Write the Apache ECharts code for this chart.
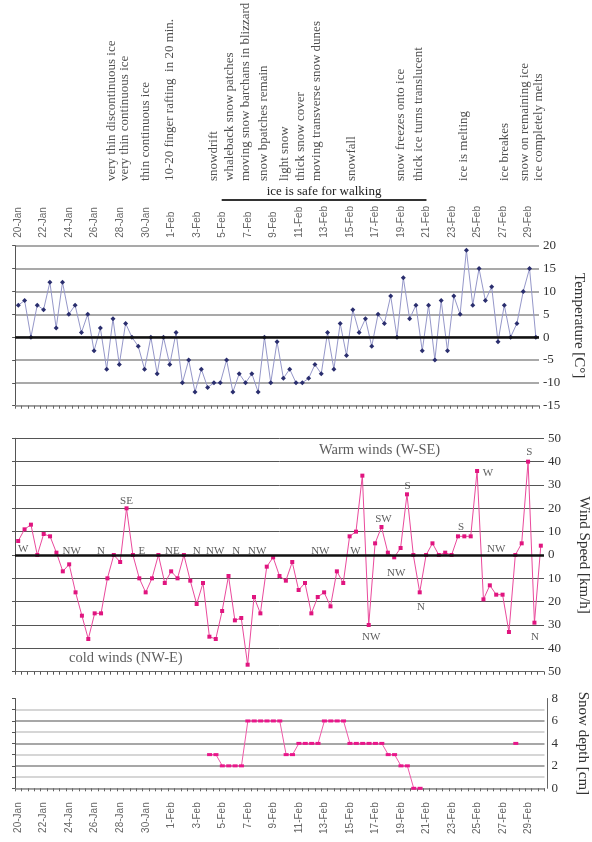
<!DOCTYPE html>
<html>
<head>
<meta charset="utf-8">
<script src="https://cdn.jsdelivr.net/npm/echarts@6/dist/echarts.min.js"></script>
<style>
  html, body { margin: 0; padding: 0; background: #fff; }
  #chart { width: 592px; height: 842px; }
</style>
</head>
<body>
<div id="chart"></div>
<script>
// Observation days; two readings per day (morning / evening)
const days = ['20-Jan','21-Jan','22-Jan','23-Jan','24-Jan','25-Jan','26-Jan','27-Jan','28-Jan','29-Jan',
  '30-Jan','31-Jan','1-Feb','2-Feb','3-Feb','4-Feb','5-Feb','6-Feb','7-Feb','8-Feb','9-Feb','10-Feb',
  '11-Feb','12-Feb','13-Feb','14-Feb','15-Feb','16-Feb','17-Feb','18-Feb','19-Feb','20-Feb','21-Feb',
  '22-Feb','23-Feb','24-Feb','25-Feb','26-Feb','27-Feb','28-Feb','29-Feb','1-Mar'];

// Air temperature [°C]
const temperature = [7, 8, 0, 7, 6, 12, 2, 12, 5, 7, 1, 5, -3, 2, -7, 4, -6, 3, 0, -2,
  -7, 0, -8, 0, -6, 1, -10, -5, -12, -7, -11, -10, -10, -5, -12, -8, -10, -8, -12, 0,
  -10, -1, -9, -7, -10, -10, -9, -6, -8, 1, -7, 3, -4, 6, 1, 4, -2, 5, 3, 9,
  0, 13, 4, 7, -3, 7, -5, 8, -3, 9, 5, 19, 7, 15, 8, 11, -1, 7, 0, 3,
  10, 15, 0];

// Wind speed [km/h]; positive = warm winds (W-SE), negative = cold winds (NW-E)
const windSpeed = [6, 11, 13, 0, 9, 8, 1, -7, -4, -16, -26, -36, -25, -25, -10, 0, -3, 20, 0, -10,
  -16, -10, 0, -12, -7, -10, 0, -11, -21, -12, -35, -36, -24, -9, -28, -27, -47, -18, -25, -5,
  -1, -9, -11, -3, -15, -12, -25, -18, -16, -22, -7, -12, 8, 10, 34, -30, 5, 12, 1, -1,
  3, 26, 0, -16, 0, 5, 0, 1, 0, 8, 8, 8, 36, -19, -13, -17, -17, -33, 0, 5,
  40, -29, 4];

// Snow depth on the ice [cm]
const snowDepth = [null, null, null, null, null, null, null, null, null, null,
  null, null, null, null, null, null, null, null, null, null,
  null, null, null, null, null, null, null, null, null, null,
  3, 3, 2, 2, 2, 2, 6, 6, 6, 6, 6, 6, 3, 3, 4, 4, 4, 4, 6, 6,
  6, 6, 4, 4, 4, 4, 4, 4, 3, 3, 2, 2, 0, 0, null, null, null, null, null, null,
  null, null, null, null, null, null, null, null, 4, null, null, null, null];

// Ice / snow observations (position in reading slots)
const noteText = ['very thin discontinuous ice', 'very thin continuous ice', 'thin continuous ice',
  '10-20 finger rafting  in 20 min.', 'snowdrift', 'whaleback snow patches',
  'moving snow barchans in blizzard', 'snow bpatches remain', 'light snow', 'thick snow cover',
  'moving transverse snow dunes', 'snowfall', 'snow freezes onto ice', 'thick ice turns translucent',
  'ice is melting', 'ice breakes', 'snow on remaining ice', 'ice completely melts'];
const noteSlot = [14.65, 16.6, 20.0, 23.8, 30.7, 33.1, 35.7, 38.4, 41.8, 44.2,
  46.7, 52.2, 60.0, 62.7, 69.8, 76.3, 79.3, 81.5];
const walkingFrom = 31.9, walkingTo = 64.0;

// Wind direction notes: text, slot position, height on the wind-speed scale
const dirText  = ['W', 'NW', 'N', 'SE', 'E', 'NE', 'N', 'NW', 'N', 'NW', 'NW', 'W',
  'NW', 'SW', 'NW', 'S', 'N', 'S', 'W', 'NW', 'S', 'N'];
const dirSlot  = [0.8, 8.4, 13.0, 17.0, 19.4, 24.2, 28.0, 30.9, 34.2, 37.5, 47.4, 52.9,
  55.4, 57.3, 59.3, 61.1, 63.2, 69.5, 73.7, 75.0, 80.2, 81.1];
const dirLevel = [2.6, 1.8, 1.8, 23.1, 1.8, 1.8, 1.8, 1.8, 1.8, 1.8, 1.8, 1.8,
  -35, 15.3, -7.8, 29.6, -22.4, 12.1, 35, 2.4, 44, -35.3];

// Wind group captions
const windCaptions = ['Warm winds (W-SE)', 'cold winds (NW-E)'];
const windCaptionSlot = [56.7, 16.9];
const windCaptionLevel = [44.7, -44.1];

// ---- build ----
const slots = [];
days.forEach(d => { slots.push(d + ' am'); slots.push(d + ' pm'); });
const categories = slots.slice(0, temperature.length);
const dayOf = v => v.split(' ')[0];

const SERIF = 'Liberation Serif';
const SANS = 'Liberation Sans';
const slotMin = -0.5, slotMax = categories.length - 0.5;

const dateLabel = {
  show: true, interval: 3, rotate: 90, formatter: dayOf,
  fontFamily: SANS, fontSize: 10, color: '#666'
};
const rightLabel = { fontFamily: SERIF, fontSize: 13, color: '#333', margin: 4 };
const axisName = { fontFamily: SERIF, fontSize: 15, color: '#333' };

const textSeries = (name, xi, yi, pts, size) => ({
  name, type: 'scatter', xAxisIndex: xi, yAxisIndex: yi, symbolSize: 0, silent: true,
  data: pts,
  label: {
    show: true, position: 'inside', align: 'center', verticalAlign: 'middle',
    formatter: p => p.data[2], fontFamily: SERIF, fontSize: size, color: '#333'
  },
  z: 4
});

const chart = echarts.init(document.getElementById('chart'), null, { renderer: 'canvas' });

chart.setOption({
  animation: false,
  backgroundColor: '#fff',
  textStyle: { fontFamily: SERIF },
  grid: [
    { left: 15, right: 47.5, top: 0, height: 200, outerBoundsMode: 'none' },          // notes
    { left: 15, right: 47.5, top: 245.7, height: 160, outerBoundsMode: 'none' },      // date labels
    { left: 15.15, right: 53, top: 245.7, height: 160, outerBoundsMode: 'none' },     // temperature
    { left: 15, right: 48, top: 438.3, height: 233.4, outerBoundsMode: 'none' },      // wind
    { left: 15, right: 47.5, top: 698.5, height: 89.8, outerBoundsMode: 'none' }      // snow
  ],
  xAxis: [
    { type: 'value', gridIndex: 0, min: slotMin, max: slotMax, show: false },
    { type: 'category', gridIndex: 1, position: 'top', data: categories, boundaryGap: true,
      axisLine: { show: false }, axisTick: { show: false },
      axisLabel: Object.assign({ margin: 8 }, dateLabel), splitLine: { show: false } },
    { type: 'category', gridIndex: 2, position: 'bottom', data: categories, boundaryGap: true,
      axisLine: { onZero: false, lineStyle: { color: '#999', width: 1 } },
      axisTick: { show: true, interval: 0, length: 3, lineStyle: { color: '#666' } },
      axisLabel: { show: false }, splitLine: { show: false } },
    { type: 'category', gridIndex: 3, position: 'bottom', data: categories, boundaryGap: true,
      axisLine: { onZero: false, lineStyle: { color: '#666', width: 1 } },
      axisTick: { show: true, interval: 0, length: 3, lineStyle: { color: '#555' } },
      axisLabel: { show: false }, splitLine: { show: false } },
    { type: 'value', gridIndex: 3, min: slotMin, max: slotMax, show: false },
    { type: 'category', gridIndex: 4, position: 'bottom', data: categories, boundaryGap: true,
      axisLine: { onZero: false, lineStyle: { color: '#999', width: 1 } },
      axisTick: { show: true, interval: 0, length: 3, lineStyle: { color: '#666' } },
      axisLabel: Object.assign({ margin: 14 }, dateLabel), splitLine: { show: false } }
  ],
  yAxis: [
    { type: 'value', gridIndex: 0, min: 0, max: 20, show: false },
    { type: 'value', gridIndex: 1, min: 0, max: 1, show: false },
    { type: 'value', gridIndex: 2, position: 'right', min: -15, max: 20, interval: 5,
      axisLine: { show: false }, axisTick: { show: false }, axisLabel: rightLabel,
      splitLine: { show: true, lineStyle: { color: '#8c8c8c', width: 1.5 } },
      name: 'Temperature [C°]', nameLocation: 'middle', nameRotate: -90, nameGap: 30,
      nameTextStyle: axisName },
    { type: 'value', gridIndex: 2, position: 'left', min: -15, max: 20, interval: 5,
      axisLine: { show: true, lineStyle: { color: '#555' } },
      axisTick: { show: true, length: 3, lineStyle: { color: '#555' } },
      axisLabel: { show: false }, splitLine: { show: false } },
    { type: 'value', gridIndex: 3, position: 'right', min: -50, max: 50, interval: 10,
      axisLine: { show: false }, axisTick: { show: false },
      axisLabel: Object.assign({ formatter: v => String(Math.abs(v)) }, rightLabel),
      splitLine: { show: true, lineStyle: { color: '#555', width: 1 } },
      name: 'Wind Speed [km/h]', nameLocation: 'middle', nameRotate: -90, nameGap: 32,
      nameTextStyle: axisName },
    { type: 'value', gridIndex: 3, position: 'left', min: -50, max: 50, interval: 10,
      axisLine: { show: true, lineStyle: { color: '#555' } },
      axisTick: { show: true, length: 3, lineStyle: { color: '#555' } },
      axisLabel: { show: false }, splitLine: { show: false } },
    { type: 'value', gridIndex: 4, position: 'right', offset: 3, min: 0, max: 8, interval: 1,
      axisLine: { show: true, lineStyle: { color: '#666' } }, axisTick: { show: false },
      axisLabel: Object.assign({ formatter: v => (v % 2 === 0 ? String(v) : '') }, rightLabel),
      splitLine: { show: true, showMaxLine: false,
        lineStyle: { color: ['#8a8a8a', '#c9c9c9'], width: 1.5 } },
      name: 'Snow depth [cm]', nameLocation: 'middle', nameRotate: -90, nameGap: 28,
      nameTextStyle: axisName },
    { type: 'value', gridIndex: 4, position: 'left', min: 0, max: 8, interval: 1,
      axisLine: { show: true, lineStyle: { color: '#555' } },
      axisTick: { show: true, length: 3, lineStyle: { color: '#555' } },
      axisLabel: { show: false }, splitLine: { show: false } }
  ],
  series: [
    {
      name: 'notes', type: 'scatter', xAxisIndex: 0, yAxisIndex: 0, symbolSize: 0, silent: true,
      data: noteText.map((t, i) => [noteSlot[i], 1.9, t]),
      label: {
        show: true, position: [0, 0], rotate: 90, align: 'left', verticalAlign: 'middle',
        formatter: p => p.data[2], fontFamily: SERIF, fontSize: 13, color: '#222'
      },
      markLine: {
        silent: true, symbol: ['none', 'none'],
        lineStyle: { color: '#333', width: 2, type: 'solid' },
        label: { show: true, position: 'middle', formatter: 'ice is safe for walking',
          fontFamily: SERIF, fontSize: 13, color: '#222', distance: 2 },
        data: [[{ coord: [walkingFrom, 0] }, { coord: [walkingTo, 0] }]]
      }
    },
    {
      name: 'Temperature', type: 'line', xAxisIndex: 2, yAxisIndex: 2, data: temperature,
      symbol: 'diamond', symbolSize: 5, showAllSymbol: true,
      lineStyle: { color: '#9597c9', width: 1 },
      itemStyle: { color: '#2a2e6e' },
      markLine: {
        silent: true, symbol: ['none', 'none'], label: { show: false },
        lineStyle: { color: '#111', width: 2.5, type: 'solid' },
        data: [{ yAxis: 0 }]
      },
      z: 3
    },
    {
      name: 'Wind Speed', type: 'line', xAxisIndex: 3, yAxisIndex: 4, data: windSpeed,
      symbol: 'rect', symbolSize: 4, showAllSymbol: true,
      lineStyle: { color: '#ea4a9c', width: 1 },
      itemStyle: { color: '#e0157f' },
      markLine: {
        silent: true, symbol: ['none', 'none'], label: { show: false },
        lineStyle: { color: '#111', width: 2.5, type: 'solid' },
        data: [{ yAxis: 0 }]
      },
      z: 3
    },
    textSeries('wind direction', 4, 4, dirText.map((t, i) => [dirSlot[i], dirLevel[i], t]), 11),
    textSeries('wind groups', 4, 4,
      windCaptions.map((t, i) => [windCaptionSlot[i], windCaptionLevel[i], t]), 14.5),
    {
      name: 'Snow depth', type: 'line', xAxisIndex: 5, yAxisIndex: 6, data: snowDepth,
      connectNulls: false, symbol: 'rect', symbolSize: [5, 3], showAllSymbol: true,
      lineStyle: { color: '#ef5aa8', width: 1 },
      itemStyle: { color: '#e8178a' },
      z: 3
    }
  ]
});
</script>
</body>
</html>
